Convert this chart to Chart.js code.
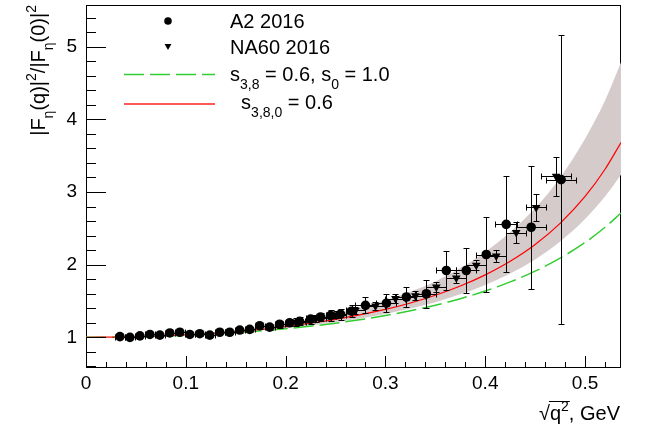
<!DOCTYPE html>
<html><head><meta charset="utf-8">
<script src="https://cdn.jsdelivr.net/npm/chart.js@4/dist/chart.umd.min.js"></script>
<style>html,body{margin:0;padding:0;background:#fff}#wrap{width:645px;height:436px;position:relative}</style>
</head><body><div id="wrap"><canvas id="c" width="645" height="436"></canvas></div>
<script>
// ---- data ----
const a2X = [0.034,0.044,0.054,0.064,0.074,0.084,0.094,0.104,0.114,0.124,0.134,0.144,0.154,0.164,0.174,0.184,0.194,0.204,0.214,0.225,0.235,0.245,0.255,0.266,0.280,0.301,0.321,0.341,0.361,0.381,0.401,0.421,0.446,0.476];
const a2Y = [1.01,1.00,1.02,1.04,1.03,1.06,1.07,1.04,1.05,1.03,1.07,1.07,1.10,1.11,1.16,1.14,1.18,1.20,1.22,1.25,1.28,1.30,1.32,1.36,1.44,1.47,1.555,1.60,1.92,1.92,2.14,2.555,2.515,3.17];
const a2YErr = [0.02,0.02,0.02,0.02,0.02,0.025,0.025,0.025,0.03,0.03,0.03,0.03,0.035,0.035,0.04,0.04,0.045,0.05,0.055,0.06,0.06,0.07,0.075,0.08,0.11,0.12,0.14,0.19,0.27,0.31,0.51,0.66,0.85,1.99];
const a2XErr = [0.005,0.005,0.005,0.005,0.005,0.005,0.005,0.005,0.005,0.005,0.005,0.005,0.005,0.005,0.005,0.005,0.005,0.005,0.005,0.005,0.005,0.005,0.005,0.005,0.01,0.01,0.01,0.01,0.01,0.01,0.01,0.011,0.015,0.015];

const na60X = [0.21,0.23,0.25,0.270,0.290,0.310,0.330,0.351,0.371,0.391,0.411,0.431,0.451,0.471];
const na60Y = [1.21,1.26,1.31,1.372,1.431,1.533,1.574,1.693,1.817,1.992,2.120,2.442,2.787,3.218];
const na60YErr = [0.05,0.05,0.05,0.05,0.05,0.06,0.06,0.07,0.07,0.07,0.08,0.15,0.18,0.27];
const na60XErr = [0.01,0.01,0.01,0.01,0.01,0.01,0.01,0.01,0.01,0.01,0.01,0.01,0.01,0.015];

const curveX  = [0,0.05,0.1,0.15,0.2,0.25,0.3,0.325,0.35,0.375,0.4,0.425,0.45,0.475,0.5,0.52,0.536];
const redY    = [1,1.008,1.034,1.079,1.148,1.246,1.384,1.473,1.579,1.706,1.860,2.047,2.278,2.569,2.939,3.314,3.681];
const greenY  = [1,1.007,1.028,1.064,1.119,1.195,1.300,1.366,1.442,1.532,1.638,1.763,1.911,2.090,2.306,2.515,2.710];
const bandHiY = [1,1.011,1.045,1.101,1.194,1.321,1.509,1.628,1.768,1.953,2.176,2.446,2.779,3.198,3.733,4.258,4.785];
const bandLoY = [1,1.006,1.029,1.069,1.125,1.209,1.322,1.396,1.484,1.592,1.721,1.879,2.073,2.320,2.630,2.939,3.239];

const xTickLabels = ['0','0.1','0.2','0.3','0.4','0.5'];
const yTickLabels = ['1','2','3','4','5'];
const xRange = [0, 0.536];
const yRange = [0.578, 5.574];

// ---- drawing ----
const FONT = '"Liberation Sans", Arial, Helvetica, sans-serif';
const pts = (xs, ys) => xs.map((x, i) => ({x, y: ys[i]}));

function minorTicks(lo, hi, step) {
  const out = [];
  const n0 = Math.ceil(lo / step - 1e-9), n1 = Math.floor(hi / step + 1e-9);
  for (let n = n0; n <= n1; n++) out.push(+(n * step).toFixed(6));
  return out;
}
const xMajor = xTickLabels.map(Number), yMajor = yTickLabels.map(Number);
const isMajor = (v, list) => list.some(m => Math.abs(m - v) < 1e-6);

function rich(ctx, parts, x, y, size) {
  let cx = x;
  for (const [t, m] of parts) {
    const s = m ? size * 0.7 : size;
    ctx.font = s + 'px ' + FONT;
    const dy = m === 1 ? size * 0.38 : (m === 2 ? -size * 0.45 : 0);
    ctx.fillText(t, cx, y + dy);
    cx += ctx.measureText(t).width;
  }
  return cx;
}
function richWidth(ctx, parts, size) {
  let w = 0;
  for (const [t, m] of parts) { ctx.font = (m ? size * 0.7 : size) + 'px ' + FONT; w += ctx.measureText(t).width; }
  return w;
}

const framePlugin = {
  id: 'frame',
  beforeDatasetsDraw(chart) {
    const {ctx, chartArea: a} = chart;
    ctx.save();
    ctx.strokeStyle = '#000'; ctx.lineWidth = 1;
    ctx.strokeRect(Math.round(a.left) + 0.5, Math.round(a.top) + 0.5, Math.round(a.right - a.left) - 1, Math.round(a.bottom - a.top) - 1);
    ctx.restore();
  },
  afterDraw(chart) {
    const {ctx, chartArea: a, scales: {x, y}} = chart;
    ctx.save();
    ctx.strokeStyle = '#000'; ctx.lineWidth = 1;
    ctx.beginPath();
    x.ticks.forEach(t => {
      const px = Math.round(x.getPixelForValue(t.value)) + 0.5;
      const len = isMajor(t.value, xMajor) ? 12 : 6;
      ctx.moveTo(px, a.bottom); ctx.lineTo(px, a.bottom - len);
    });
    y.ticks.forEach(t => {
      const py = Math.round(y.getPixelForValue(t.value)) + 0.5;
      const len = isMajor(t.value, yMajor) ? 20 : 10;
      ctx.moveTo(a.left, py); ctx.lineTo(a.left + len, py);
    });
    ctx.stroke();
    ctx.restore();
  }
};

const errorPlugin = {
  id: 'errbars',
  afterDatasetsDraw(chart) {
    const {ctx, scales: {x, y}, chartArea: a} = chart;
    ctx.save();
    ctx.beginPath(); ctx.rect(a.left, a.top, a.right - a.left, a.bottom - a.top); ctx.clip();
    ctx.strokeStyle = '#000'; ctx.lineWidth = 1;
    chart.data.datasets.forEach(ds => {
      if (!ds.errY) return;
      ds.data.forEach((p, i) => {
        const px = Math.round(x.getPixelForValue(p.x)) + 0.5;
        const py = Math.round(y.getPixelForValue(p.y)) + 0.5;
        const y1 = Math.round(y.getPixelForValue(p.y + ds.errY[i])) + 0.5;
        const y2 = Math.round(y.getPixelForValue(p.y - ds.errY[i])) + 0.5;
        const x1 = Math.round(x.getPixelForValue(p.x - ds.errX[i])) + 0.5;
        const x2 = Math.round(x.getPixelForValue(p.x + ds.errX[i])) + 0.5;
        ctx.beginPath();
        ctx.moveTo(px, y1); ctx.lineTo(px, y2);
        ctx.moveTo(px - 3, y1); ctx.lineTo(px + 3, y1);
        ctx.moveTo(px - 3, y2); ctx.lineTo(px + 3, y2);
        ctx.moveTo(x1, py); ctx.lineTo(x2, py);
        ctx.moveTo(x1, py - 3); ctx.lineTo(x1, py + 3);
        ctx.moveTo(x2, py - 3); ctx.lineTo(x2, py + 3);
        ctx.stroke();
      });
    });
    ctx.restore();
  }
};

const textPlugin = {
  id: 'texts',
  afterDraw(chart) {
    const ctx = chart.ctx;
    ctx.save();
    // legend lines
    ctx.setLineDash([20, 6]); ctx.lineWidth = 1.5; ctx.strokeStyle = '#33cc33';
    ctx.beginPath(); ctx.moveTo(124, 74.5); ctx.lineTo(215, 74.5); ctx.stroke();
    ctx.setLineDash([]); ctx.lineWidth = 1.3; ctx.strokeStyle = '#ff2020';
    ctx.beginPath(); ctx.moveTo(124, 104); ctx.lineTo(215, 104); ctx.stroke();
    ctx.restore();

    ctx.save();
    ctx.fillStyle = '#000'; ctx.strokeStyle = '#000';
    // legend markers
    Chart.helpers.drawPoint(ctx, {pointStyle: 'circle', radius: 3.8, rotation: 0, borderWidth: 0}, 168, 21);
    Chart.helpers.drawPoint(ctx, {pointStyle: 'triangle', radius: 4, rotation: 180, borderWidth: 0}, 168, 46);
    ctx.restore();

    ctx.save();
    ctx.fillStyle = '#000';
    ctx.textBaseline = 'alphabetic';
    ctx.textAlign = 'left';
    // legend texts
    const S = 20;
    rich(ctx, [['A2 2016', 0]], 230, 28, S);
    rich(ctx, [['NA60 2016', 0]], 230, 54, S);
    rich(ctx, [['s', 0], ['3,8', 1], [' = 0.6, s', 0], ['0', 1], [' = 1.0', 0]], 230, 81, S);
    rich(ctx, [['  s', 0], ['3,8,0', 1], [' = 0.6', 0]], 230, 109, S);
    // y title (rotated)
    const yParts = [['|F', 0], ['\u03b7', 1], ['(q)|', 0], ['2', 2], ['/|F', 0], ['\u03b7', 1], ['(0)|', 0], ['2', 2]];
    const wY = richWidth(ctx, yParts, S);
    ctx.save();
    ctx.translate(45, 5);
    ctx.rotate(-Math.PI / 2);
    rich(ctx, yParts, -wY, 0, S);
    ctx.restore();
    // x title
    const XS = 20;
    const xParts = [['\u221a', 0], ['q', 0], ['2', 2], [', GeV', 0]];
    const wX = richWidth(ctx, xParts, XS);
    const x0 = 620 - wX, base = 420;
    ctx.font = XS + 'px ' + FONT;
    const rw = ctx.measureText('\u221a').width;
    const end = rich(ctx, xParts.slice(0, 3), x0, base, XS);
    ctx.strokeStyle = '#000'; ctx.lineWidth = 1;
    ctx.beginPath(); ctx.moveTo(x0 + rw - 1, base - 18.5); ctx.lineTo(end + 1, base - 18.5); ctx.stroke();
    rich(ctx, xParts.slice(3), end, base, XS);
    ctx.restore();
  }
};

const tickFont = {family: FONT, size: 19};

new Chart(document.getElementById('c'), {
  type: 'scatter',
  data: {
    datasets: [
      {label: 'A2 2016', data: pts(a2X, a2Y), pointStyle: 'circle', pointRadius: 4.8, pointBackgroundColor: '#000', pointBorderColor: '#000', pointBorderWidth: 0, order: 0, errX: a2XErr, errY: a2YErr},
      {label: 'NA60 2016', data: pts(na60X, na60Y), pointStyle: 'triangle', pointRotation: 180, pointRadius: 5, pointBackgroundColor: '#000', pointBorderColor: '#000', pointBorderWidth: 0, order: 0, errX: na60XErr, errY: na60YErr},
      {label: 's380', data: pts(curveX, redY), showLine: true, pointRadius: 0, borderColor: '#ff0000', borderWidth: 1.2, cubicInterpolationMode: 'monotone', fill: false, order: 1},
      {label: 's38', data: pts(curveX, greenY), showLine: true, pointRadius: 0, borderColor: '#33cc33', borderWidth: 1.5, borderDash: [20, 6], cubicInterpolationMode: 'monotone', fill: false, order: 2},
      {label: 'bandHi', data: pts(curveX, bandHiY), showLine: true, pointRadius: 0, borderWidth: 0, borderColor: 'rgba(0,0,0,0)', backgroundColor: 'rgb(213,203,203)', cubicInterpolationMode: 'monotone', fill: '+1', order: 3},
      {label: 'bandLo', data: pts(curveX, bandLoY), showLine: true, pointRadius: 0, borderWidth: 0, borderColor: 'rgba(0,0,0,0)', cubicInterpolationMode: 'monotone', fill: false, order: 4}
    ]
  },
  options: {
    responsive: false, animation: false, devicePixelRatio: 1,
    layout: {padding: {left: 0, right: 24, top: 5, bottom: 0}},
    plugins: {legend: {display: false}, tooltip: {enabled: false}},
    scales: {
      x: {
        type: 'linear', min: xRange[0], max: xRange[1],
        grid: {display: false, drawTicks: false}, border: {display: false},
        afterBuildTicks: s => { s.ticks = minorTicks(xRange[0], xRange[1], 0.02).map(v => ({value: v})); },
        ticks: {autoSkip: false, maxRotation: 0, padding: 4, color: '#000', font: tickFont,
          callback: v => { const i = xMajor.findIndex(m => Math.abs(m - v) < 1e-6); return i >= 0 ? xTickLabels[i] : ''; }},
        afterFit: s => { s.height = 68; s.paddingLeft = 0; s.paddingRight = 0; }
      },
      y: {
        type: 'linear', min: yRange[0], max: yRange[1],
        grid: {display: false, drawTicks: false}, border: {display: false},
        afterBuildTicks: s => { s.ticks = minorTicks(yRange[0], yRange[1], 0.2).map(v => ({value: v})); },
        ticks: {autoSkip: false, padding: 9, color: '#000', font: tickFont,
          callback: v => { const i = yMajor.findIndex(m => Math.abs(m - v) < 1e-6); return i >= 0 ? yTickLabels[i] : ''; }},
        afterFit: s => { s.width = 86; s.paddingTop = 0; s.paddingBottom = 0; }
      }
    }
  },
  plugins: [framePlugin, errorPlugin, textPlugin]
});
</script></body></html>
